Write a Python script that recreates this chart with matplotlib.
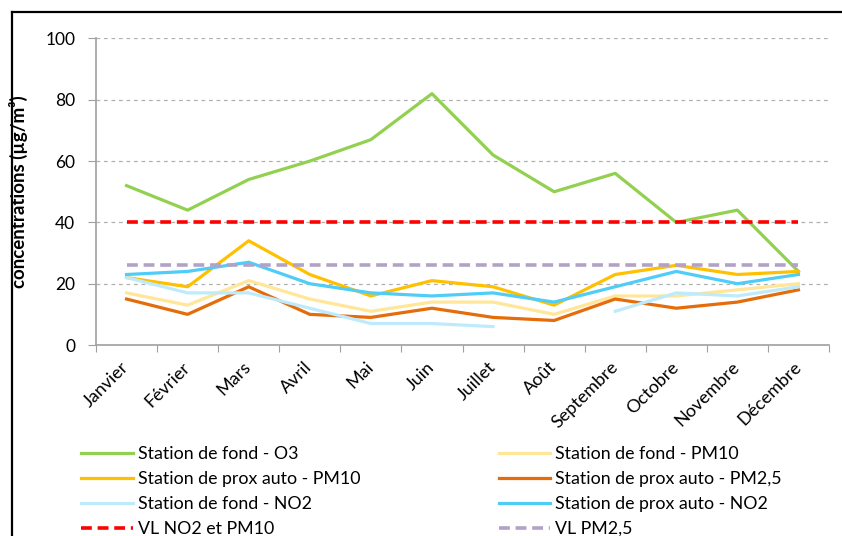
import numpy as np
import matplotlib.pyplot as plt
from matplotlib.lines import Line2D

plt.rcParams['font.family'] = ['Lato', 'DejaVu Sans']

mois = ["Janvier", "Février", "Mars", "Avril", "Mai", "Juin", "Juillet",
        "Août", "Septembre", "Octobre", "Novembre", "Décembre"]

fond_o3 = [52, 44, 54, 60, 67, 82, 62, 50, 56, 40, 44, 24]
fond_pm10 = [17, 13, 21, 15, 11, 14, 14, 10, 16, 16, 18, 20]
prox_pm10 = [22, 19, 34, 23, 16, 21, 19, 13, 23, 26, 23, 24]
prox_pm25 = [15, 10, 19, 10, 9, 12, 9, 8, 15, 12, 14, 18]
fond_no2 = [22, 17, 17, 12, 7, 7, 6, np.nan, 11, 17, 16, 19]
prox_no2 = [23, 24, 27, 20, 17, 16, 17, 14, 19, 24, 20, 23]
vl_no2_pm10 = [40] * 12
vl_pm25 = [26] * 12

fig = plt.figure(figsize=(8.42, 5.36), dpi=100)
ax = fig.add_axes([96 / 842, 1 - 345 / 536, (829 - 96) / 842, (345 - 38.5) / 536])

x = np.arange(len(mois))
lw = 2.3
h_o3, = ax.plot(x, fond_o3, color='#92D050', lw=lw, label="Station de fond - O3")
h_fpm10, = ax.plot(x, fond_pm10, color='#FFE699', lw=lw, label="Station de fond - PM10")
h_ppm10, = ax.plot(x, prox_pm10, color='#FFC000', lw=lw, label="Station de prox auto - PM10")
h_ppm25, = ax.plot(x, prox_pm25, color='#E46C0A', lw=lw, label="Station de prox auto - PM2,5")
h_fno2, = ax.plot(x, fond_no2, color='#BDEBFC', lw=lw, label="Station de fond - NO2")
h_pno2, = ax.plot(x, prox_no2, color='#4FCDF7', lw=lw, label="Station de prox auto - NO2")
h_vl1, = ax.plot(x, vl_no2_pm10, color='#FF0000', lw=2.6, ls=(0, (3, 1.6)),
                 label="VL NO2 et PM10")
h_vl2, = ax.plot(x, vl_pm25, color='#B3A2C7', lw=2.6, ls=(0, (3, 1.6)),
                 label="VL PM2,5")

ax.set_xlim(-0.5, 11.5)
ax.set_ylim(0, 100)
ax.set_yticks([0, 20, 40, 60, 80, 100])
ax.yaxis.grid(True, color='#B0B0B0', ls=(0, (3, 3)), lw=0.9)
ax.set_axisbelow(True)

ax.set_xticks(np.arange(-0.5, 12, 1))
ax.set_xticklabels([])
ax.set_xticks(x, minor=True)
ax.set_xticklabels(mois, minor=True, rotation=45, ha='right', va='center',
                   rotation_mode='anchor')
ax.tick_params(axis='x', which='minor', length=0, pad=14, labelsize=13)
ax.tick_params(axis='x', which='major', length=5, color='#A0A0A0', direction='out')
ax.tick_params(axis='y', length=6, color='#A0A0A0', pad=9, labelsize=12.5)

for s in ['top', 'right']:
    ax.spines[s].set_visible(False)
for s in ['left', 'bottom']:
    ax.spines[s].set_color('#A0A0A0')
    ax.spines[s].set_linewidth(1.2)

ax.set_ylabel("concentrations (µg/m³)", fontsize=13.5, fontweight='bold')
ax.yaxis.set_label_coords(-0.093, 0.5)

handles = [h_o3, h_ppm10, h_fno2, h_vl1, h_fpm10, h_ppm25, h_pno2, h_vl2]
fig.legend(handles=handles, labels=[h.get_label() for h in handles], ncol=2,
           loc='upper left', bbox_to_anchor=(74 / 842, 1 - 439 / 536),
           frameon=False, fontsize=12.8, handlelength=2.9, handletextpad=0.28,
           columnspacing=7.8, labelspacing=0.5, borderaxespad=0)

# cadre du graphique
fig.add_artist(Line2D([12 / 842, 12 / 842], [0, 1 - 12 / 536], color='black', lw=1.6))
fig.add_artist(Line2D([12 / 842, 1], [1 - 12 / 536, 1 - 12 / 536], color='black', lw=1.6))

fig.savefig("out.png", dpi=100)
